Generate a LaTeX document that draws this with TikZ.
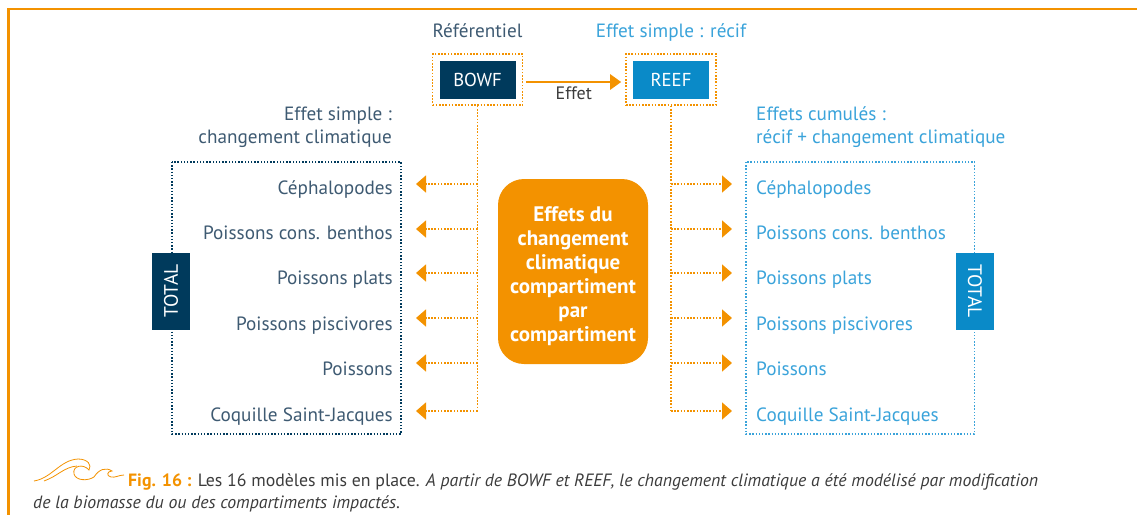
\documentclass[tikz,border=0pt]{standalone}
\usepackage{fontspec}
\setmainfont{PT Sans}
\usetikzlibrary{arrows.meta}
\definecolor{figorange}{HTML}{F39200}
\definecolor{navy}{HTML}{003A5C}
\definecolor{reefblue}{HTML}{0A8AC8}
\definecolor{slate}{HTML}{3E5A72}
\definecolor{lightblue}{HTML}{3AA3DA}
\definecolor{capgray}{HTML}{3C3C3C}
\begin{document}
\begin{tikzpicture}[x=1pt, y=-1pt, frame/.style={draw=figorange, line width=1.6pt, dash pattern=on 1.6pt off 1.6pt, minimum width=90pt, minimum height=51pt, inner sep=0pt}, model/.style={minimum width=76pt, minimum height=38pt, inner sep=0pt, text=white, font=\fontsize{18.7}{21}\selectfont}, lab/.style={inner sep=0pt, font=\fontsize{19.2}{21}\selectfont}, total/.style={minimum width=77pt, minimum height=38pt, inner sep=0pt, text=white, font=\fontsize{19.5}{21}\selectfont}, dotline/.style={figorange, line width=1.6pt, dash pattern=on 1.6pt off 1.6pt}, br/.style={dotline, -{Triangle[width=17pt, length=10pt]}}, box/.style={line width=1.4pt, dash pattern=on 1.4pt off 1.8pt}]
                \useasboundingbox (0,0) rectangle (1137,515);
                % frame
                \draw[figorange, line width=2.5pt] (1137,9) -- (8.5,9) -- (8.5,515);
                % models
                \node[frame] (bowfframe) at (477.5,79.5) {};
                \node[model, fill=navy] (bowf) at (477.5,80) {BOWF};
                \node[frame] (reefframe) at (671,79.5) {};
                \node[model, fill=reefblue] (reef) at (671,80) {REEF};
                \node[lab, text=slate, anchor=base] (ref) at (477.5,37) {Référentiel};
                \node[lab, text=lightblue, anchor=base] (simple) at (671,37) {Effet simple : récif};
                \draw[figorange, line width=2.5pt, -{Triangle[width=15pt, length=11pt]}] ([xshift=3pt,yshift=-2.5pt]bowfframe.east) -- ([xshift=-4pt,yshift=-2.5pt]reefframe.west) node[midway, below=4pt, lab, font=\fontsize{18}{20}\selectfont, text=capgray] (effet) {Effet};
                % headings
                \node[lab, text=slate, anchor=base east, align=right] (hleft) at (392,143) {Effet simple :\\[2pt]changement climatique};
                \node[lab, text=lightblue, anchor=base west, align=left] (hright) at (756,143) {Effets cumulés :\\[2pt]récif + changement climatique};
                % boxes
                \draw[box, navy] (172,162) rectangle (401,434);
                \draw[box, lightblue] (746,162) rectangle (974.5,434);
                \node[total, fill=navy, rotate=90] (totleft) at (171,291) {TOTAL};
                \node[total, fill=reefblue, rotate=-90] (totright) at (975,291) {TOTAL};
                % left labels
                \node[lab, text=slate, anchor=base east] (lc1) at (393,194) {Céphalopodes};
                \node[lab, text=slate, anchor=base east] (lc2) at (393,239) {Poissons cons. benthos};
                \node[lab, text=slate, anchor=base east] (lc3) at (393,284) {Poissons plats};
                \node[lab, text=slate, anchor=base east] (lc4) at (393,330) {Poissons piscivores};
                \node[lab, text=slate, anchor=base east] (lc5) at (393,375) {Poissons};
                \node[lab, text=slate, anchor=base east] (lc6) at (393,421) {Coquille Saint-Jacques};
                % right labels
                \node[lab, text=lightblue, anchor=base west] (rc1) at (756,194) {Céphalopodes};
                \node[lab, text=lightblue, anchor=base west] (rc2) at (756,239) {Poissons cons. benthos};
                \node[lab, text=lightblue, anchor=base west] (rc3) at (756,284) {Poissons plats};
                \node[lab, text=lightblue, anchor=base west] (rc4) at (756,330) {Poissons piscivores};
                \node[lab, text=lightblue, anchor=base west] (rc5) at (756,375) {Poissons};
                \node[lab, text=lightblue, anchor=base west] (rc6) at (756,421) {Coquille Saint-Jacques};
                % centre
                \node[fill=figorange, rounded corners=26pt, minimum width=150pt, minimum height=185pt, text=white, font=\fontsize{21}{24}\selectfont\bfseries] (centre) at (573,271.5) {\raisebox{-5pt}[\height][\depth]{\begin{tabular}{@{}c@{}}Effets du\\changement\\climatique\\compartiment\\par\\compartiment\end{tabular}}};
                % branch points
                \coordinate (l1) at (477.5,184); \coordinate (tl1) at (416,184);
                \coordinate (l2) at (477.5,229); \coordinate (tl2) at (416,229);
                \coordinate (l3) at (477.5,273); \coordinate (tl3) at (416,273);
                \coordinate (l4) at (477.5,318); \coordinate (tl4) at (416,318);
                \coordinate (l5) at (477.5,363); \coordinate (tl5) at (416,363);
                \coordinate (l6) at (477.5,411); \coordinate (tl6) at (416,411);
                \coordinate (r1) at (671,184); \coordinate (tr1) at (732,184);
                \coordinate (r2) at (671,229); \coordinate (tr2) at (732,229);
                \coordinate (r3) at (671,273); \coordinate (tr3) at (732,273);
                \coordinate (r4) at (671,318); \coordinate (tr4) at (732,318);
                \coordinate (r5) at (671,363); \coordinate (tr5) at (732,363);
                \coordinate (r6) at (671,411); \coordinate (tr6) at (732,411);
                % edges
                \draw[dotline] (bowfframe.south) -- (l6);
                \draw[dotline] (reefframe.south) -- (r6);
                \draw[br] (l1) -- (tl1);
                \draw[br] (l2) -- (tl2);
                \draw[br] (l3) -- (tl3);
                \draw[br] (l4) -- (tl4);
                \draw[br] (l5) -- (tl5);
                \draw[br] (l6) -- (tl6);
                \draw[br] (r1) -- (tr1);
                \draw[br] (r2) -- (tr2);
                \draw[br] (r3) -- (tr3);
                \draw[br] (r4) -- (tr4);
                \draw[br] (r5) -- (tr5);
                \draw[br] (r6) -- (tr6);
                % caption
                \draw[figorange, line width=0.8pt] (34,481) .. controls (52,478) and (60,460) .. (78,459) .. controls (88,459) and (92,465) .. (89,470) .. controls (83,463) and (72,466) .. (74,474) .. controls (76,481) and (88,481) .. (94,477);
                \draw[figorange, line width=0.8pt] (44,481) .. controls (58,476) and (64,467) .. (77,466);
                \draw[figorange, line width=0.8pt] (94,477) .. controls (99,469) and (106,467) .. (112,471) .. controls (107,471) and (106,476) .. (111,477) .. controls (115,478) and (119,475) .. (124,475);
                \node[inner sep=0pt, anchor=base west, text=capgray, font=\fontsize{17.8}{20}\selectfont] (cap1) at (128,486) {{\color{figorange}\bfseries Fig. 16 :} Les 16 modèles mis en place. \itshape A partir de BOWF et REEF, le changement climatique a été modélisé par modification};
                \node[inner sep=0pt, anchor=base west, text=capgray, font=\fontsize{17.8}{20}\selectfont\itshape] (cap2) at (33,508) {de la biomasse du ou des compartiments impactés.};
            \end{tikzpicture}
\end{document}
